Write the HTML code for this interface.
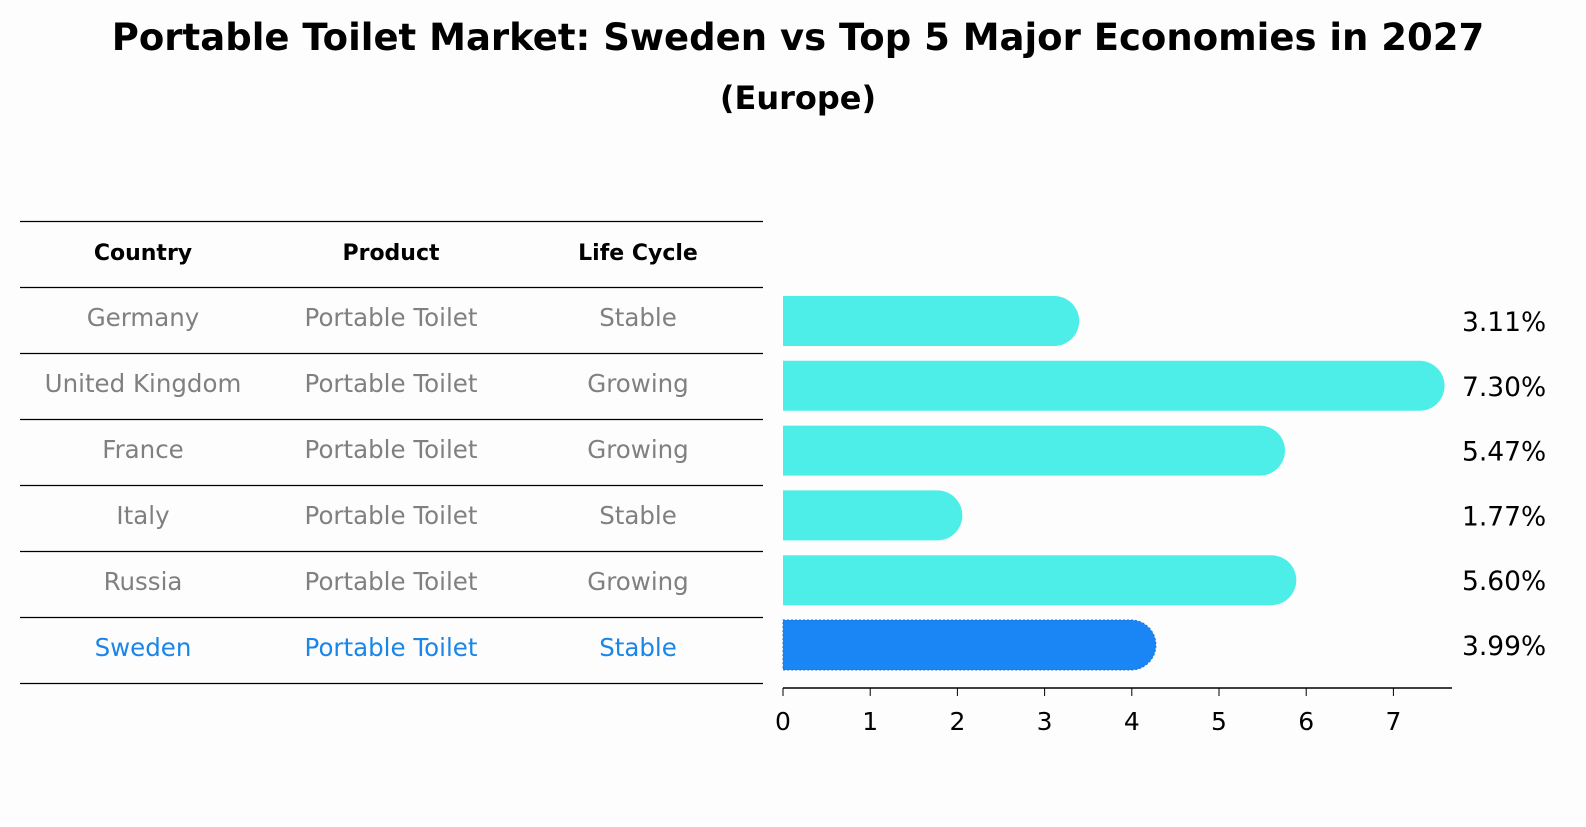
<!DOCTYPE html>
<html><head><meta charset="utf-8"><style>
body{margin:0;background:#fff;font-family:"DejaVu Sans","Liberation Sans",sans-serif;}
svg text{font-family:"DejaVu Sans","Liberation Sans",sans-serif;}
</style></head><body>
<svg id="chart" width="1586" height="823" xmlns="http://www.w3.org/2000/svg">
<rect width="1586" height="823" fill="#fdfdfd"/>
<text x="798" y="50" text-anchor="middle" font-size="37" font-weight="bold">Portable Toilet Market: Sweden vs Top 5 Major Economies in 2027</text>
<text x="798" y="109" text-anchor="middle" font-size="32" font-weight="bold">(Europe)</text>
<g id="table"></g>
<g id="bars"></g>
<g id="axis"></g>
<g id="labels"></g>
</svg>
<script>
const countries=["Germany","United Kingdom","France","Italy","Russia","Sweden"];
const products=["Portable Toilet","Portable Toilet","Portable Toilet","Portable Toilet","Portable Toilet","Portable Toilet"];
const lifeCycles=["Stable","Growing","Growing","Stable","Growing","Stable"];
const values=[3.11,7.30,5.47,1.77,5.60,3.99];
const valueLabels=["3.11%","7.30%","5.47%","1.77%","5.60%","3.99%"];
const ticks=[0,1,2,3,4,5,6,7];
const NS="http://www.w3.org/2000/svg";
function mk(t,a,p){const e=document.createElementNS(NS,t);for(const k in a)e.setAttribute(k,a[k]);p.appendChild(e);return e;}
const x0=783,ppu=87.2;
const xs=v=>x0+v*ppu;
const rowY=i=>321+i*64.8;
const tbl=document.getElementById('table');
const colX=[143,391,638];
const lineYs=[221,287];
for(let i=0;i<countries.length;i++)lineYs.push(Math.round(287+(i+1)*66));
lineYs.forEach(y=>{const l=mk('line',{x1:20,x2:763,y1:y+0.5,y2:y+0.5,stroke:'#000','stroke-width':1.2},tbl);

});
["Country","Product","Life Cycle"].forEach((h,j)=>{const t=mk('text',{x:colX[j],y:260,'text-anchor':'middle','font-size':22,'font-weight':'bold'},tbl);t.textContent=h;

});
countries.forEach((c,i)=>{const y=287+i*66+39;const col=c==="Sweden"?"#1a86e8":"#808080";
[c,products[i],lifeCycles[i]].forEach((v,j)=>{const t=mk('text',{x:colX[j],y:y,'text-anchor':'middle','font-size':24.5,fill:col},tbl);t.textContent=v;

});});
const bars=document.getElementById('bars');
const h=50,r=25;
values.forEach((v,i)=>{const cy=rowY(i),top=cy-h/2,xe=xs(v);
const sw=countries[i]==="Sweden";
const d=`M${x0},${top} L${xe},${top} A${r},${r} 0 0 1 ${xe},${top+h} L${x0},${top+h} Z`;
const p=mk('path',{d:d,fill:sw?'#1a86f5':'#4eeee8'},bars);
if(sw){p.setAttribute('stroke','#1a6fd0');p.setAttribute('stroke-dasharray','2,2');p.setAttribute('stroke-width','1');}

});
const ax=document.getElementById('axis');
const al=mk('line',{x1:x0,x2:1452,y1:688,y2:688,stroke:'#000','stroke-width':1.5},ax);


ticks.forEach(t=>{const x=xs(t);mk('line',{x1:x,x2:x,y1:688,y2:696,stroke:'#000','stroke-width':1},ax);
const tx=mk('text',{x:x,y:730,'text-anchor':'middle','font-size':25},ax);tx.textContent=t;

});
const lb=document.getElementById('labels');
valueLabels.forEach((s,i)=>{const t=mk('text',{x:1462,y:rowY(i)+10,'font-size':26.5},lb);t.textContent=s;

});
</script>
</body></html>
